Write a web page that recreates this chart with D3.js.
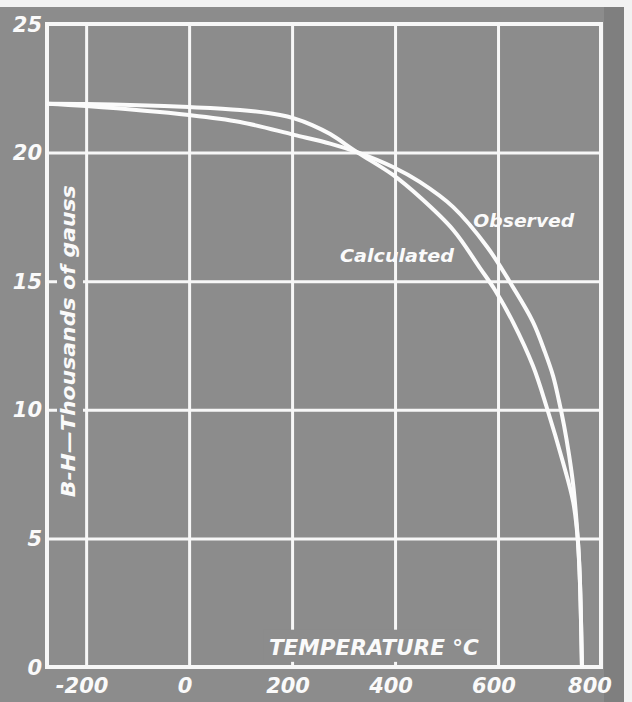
<!DOCTYPE html>
<html>
<head>
<meta charset="utf-8">
<script src="https://cdn.jsdelivr.net/npm/d3@7"></script>
<style>
  body { margin: 0; background: #f2f2f2; }
  svg { display: block; }
  .lbl { font-family: "DejaVu Sans", sans-serif; font-style: italic; font-weight: bold; fill: #fafafa; }
</style>
</head>
<body>
<div id="chart"></div>
<script>
// tick values
const tempTicks = [-200, 0, 200, 400, 600, 800];
const bhTicks = [0, 5, 10, 15, 20, 25];

// Calculated curve (temperature in °C, B-H in thousands of gauss)
const calcTemp = [-276, -200, 0, 99, 177, 204, 239, 274, 326, 396, 448, 513, 565, 594, 629, 668, 695, 726, 746, 755, 759, 763];
const calcBH   = [21.9, 21.89, 21.77, 21.66, 21.46, 21.33, 21.07, 20.72, 20.02, 19.13, 18.27, 16.99, 15.51, 14.66, 13.41, 11.7, 10.07, 7.97, 6.42, 4.94, 3.38, 0];

// Observed curve
const obsTemp = [-276, -200, 0, 99, 204, 274, 326, 396, 448, 513, 579, 629, 668, 691, 707, 718, 728, 738, 746, 751, 755, 759, 763];
const obsBH   = [21.9, 21.81, 21.46, 21.19, 20.69, 20.35, 20.02, 19.44, 18.86, 17.88, 16.33, 14.77, 13.41, 12.25, 11.31, 10.38, 9.41, 8.24, 7.08, 6.03, 4.94, 3.38, 0];

const svgWidth = 632;
const svgHeight = 702;
const margin = { top: 24, right: 31, bottom: 35, left: 47 };
const width = svgWidth - margin.left - margin.right;
const height = svgHeight - margin.top - margin.bottom;
const bg = "#8c8c8c";

const svg = d3.select("#chart")
  .append("svg")
  .attr("width", svgWidth)
  .attr("height", svgHeight);

// gray board
svg.append("rect")
  .attr("x", 0).attr("y", 7)
  .attr("width", 624).attr("height", svgHeight - 7)
  .attr("fill", bg);
svg.append("rect")
  .attr("x", 604).attr("y", 7)
  .attr("width", 20).attr("height", svgHeight - 7)
  .attr("fill", "#7f7f7f");

const chartGroup = svg.append("g")
  .attr("transform", `translate(${margin.left}, ${margin.top})`);

const x = d3.scaleLinear().domain([-276, 800]).range([0, width]);
const y = d3.scaleLinear().domain([0, 25]).range([height, 0]);

// grid lines
chartGroup.append("g")
  .attr("class", "grid")
  .attr("transform", `translate(0, ${height})`)
  .call(d3.axisBottom(x).tickValues(tempTicks).tickSize(-height).tickFormat(""));
chartGroup.append("g")
  .attr("class", "grid")
  .call(d3.axisLeft(y).tickValues(bhTicks).tickSize(-width).tickFormat(""));
chartGroup.selectAll(".grid .domain").remove();
chartGroup.selectAll(".grid line")
  .attr("stroke", "#f7f7f7")
  .attr("stroke-width", 3);

// label backgrounds break the grid lines
chartGroup.append("rect")
  .attr("x", 10).attr("y", y(17.1))
  .attr("width", 26).attr("height", y(6.5) - y(17.1))
  .attr("fill", bg);
chartGroup.append("rect")
  .attr("x", x(145)).attr("y", y(1.45))
  .attr("width", x(570) - x(145)).attr("height", y(0.2) - y(1.45))
  .attr("fill", bg);

// frame
chartGroup.append("rect")
  .attr("width", width).attr("height", height)
  .attr("fill", "none")
  .attr("stroke", "#f7f7f7")
  .attr("stroke-width", 4);

// curves
const line = d3.line()
  .x(d => x(d[0]))
  .y(d => y(d[1]))
  .curve(d3.curveCatmullRom.alpha(0.5));

const series = [
  { name: "Calculated", pts: d3.zip(calcTemp, calcBH) },
  { name: "Observed", pts: d3.zip(obsTemp, obsBH) }
];

chartGroup.selectAll(".curve")
  .data(series)
  .enter()
  .append("path")
  .attr("class", "curve")
  .attr("d", d => line(d.pts))
  .attr("fill", "none")
  .attr("stroke", "#fbfbfb")
  .attr("stroke-width", 4);

// tick labels
chartGroup.selectAll(".ylab")
  .data(bhTicks)
  .enter()
  .append("text")
  .attr("class", "lbl")
  .attr("x", -5)
  .attr("y", d => y(d))
  .attr("dy", "0.36em")
  .attr("text-anchor", "end")
  .style("font-size", "21px")
  .text(d => d);

chartGroup.selectAll(".xlab")
  .data(tempTicks)
  .enter()
  .append("text")
  .attr("class", "lbl")
  .attr("x", d => x(d) + (d === 800 ? -11 : -4))
  .attr("y", height + 26)
  .attr("text-anchor", "middle")
  .style("font-size", "21px")
  .text(d => d);

// axis titles
chartGroup.append("text")
  .attr("class", "lbl")
  .attr("transform", `translate(28, ${y(6.6)}) rotate(-90)`)
  .attr("textLength", 312)
  .attr("lengthAdjust", "spacingAndGlyphs")
  .style("font-size", "19px")
  .text("B-H\u2014Thousands of gauss");

chartGroup.append("text")
  .attr("class", "lbl")
  .attr("x", x(155))
  .attr("y", y(0.46))
  .attr("textLength", 210)
  .attr("lengthAdjust", "spacingAndGlyphs")
  .style("font-size", "21px")
  .text("TEMPERATURE  \u00b0C");

// curve labels
chartGroup.append("text")
  .attr("class", "lbl")
  .attr("x", x(293))
  .attr("y", y(15.75))
  .attr("textLength", 114)
  .attr("lengthAdjust", "spacingAndGlyphs")
  .style("font-size", "18px")
  .text("Calculated");

chartGroup.append("text")
  .attr("class", "lbl")
  .attr("x", x(552))
  .attr("y", y(17.1))
  .attr("textLength", 101)
  .attr("lengthAdjust", "spacingAndGlyphs")
  .style("font-size", "18px")
  .text("Observed");
</script>
</body>
</html>
